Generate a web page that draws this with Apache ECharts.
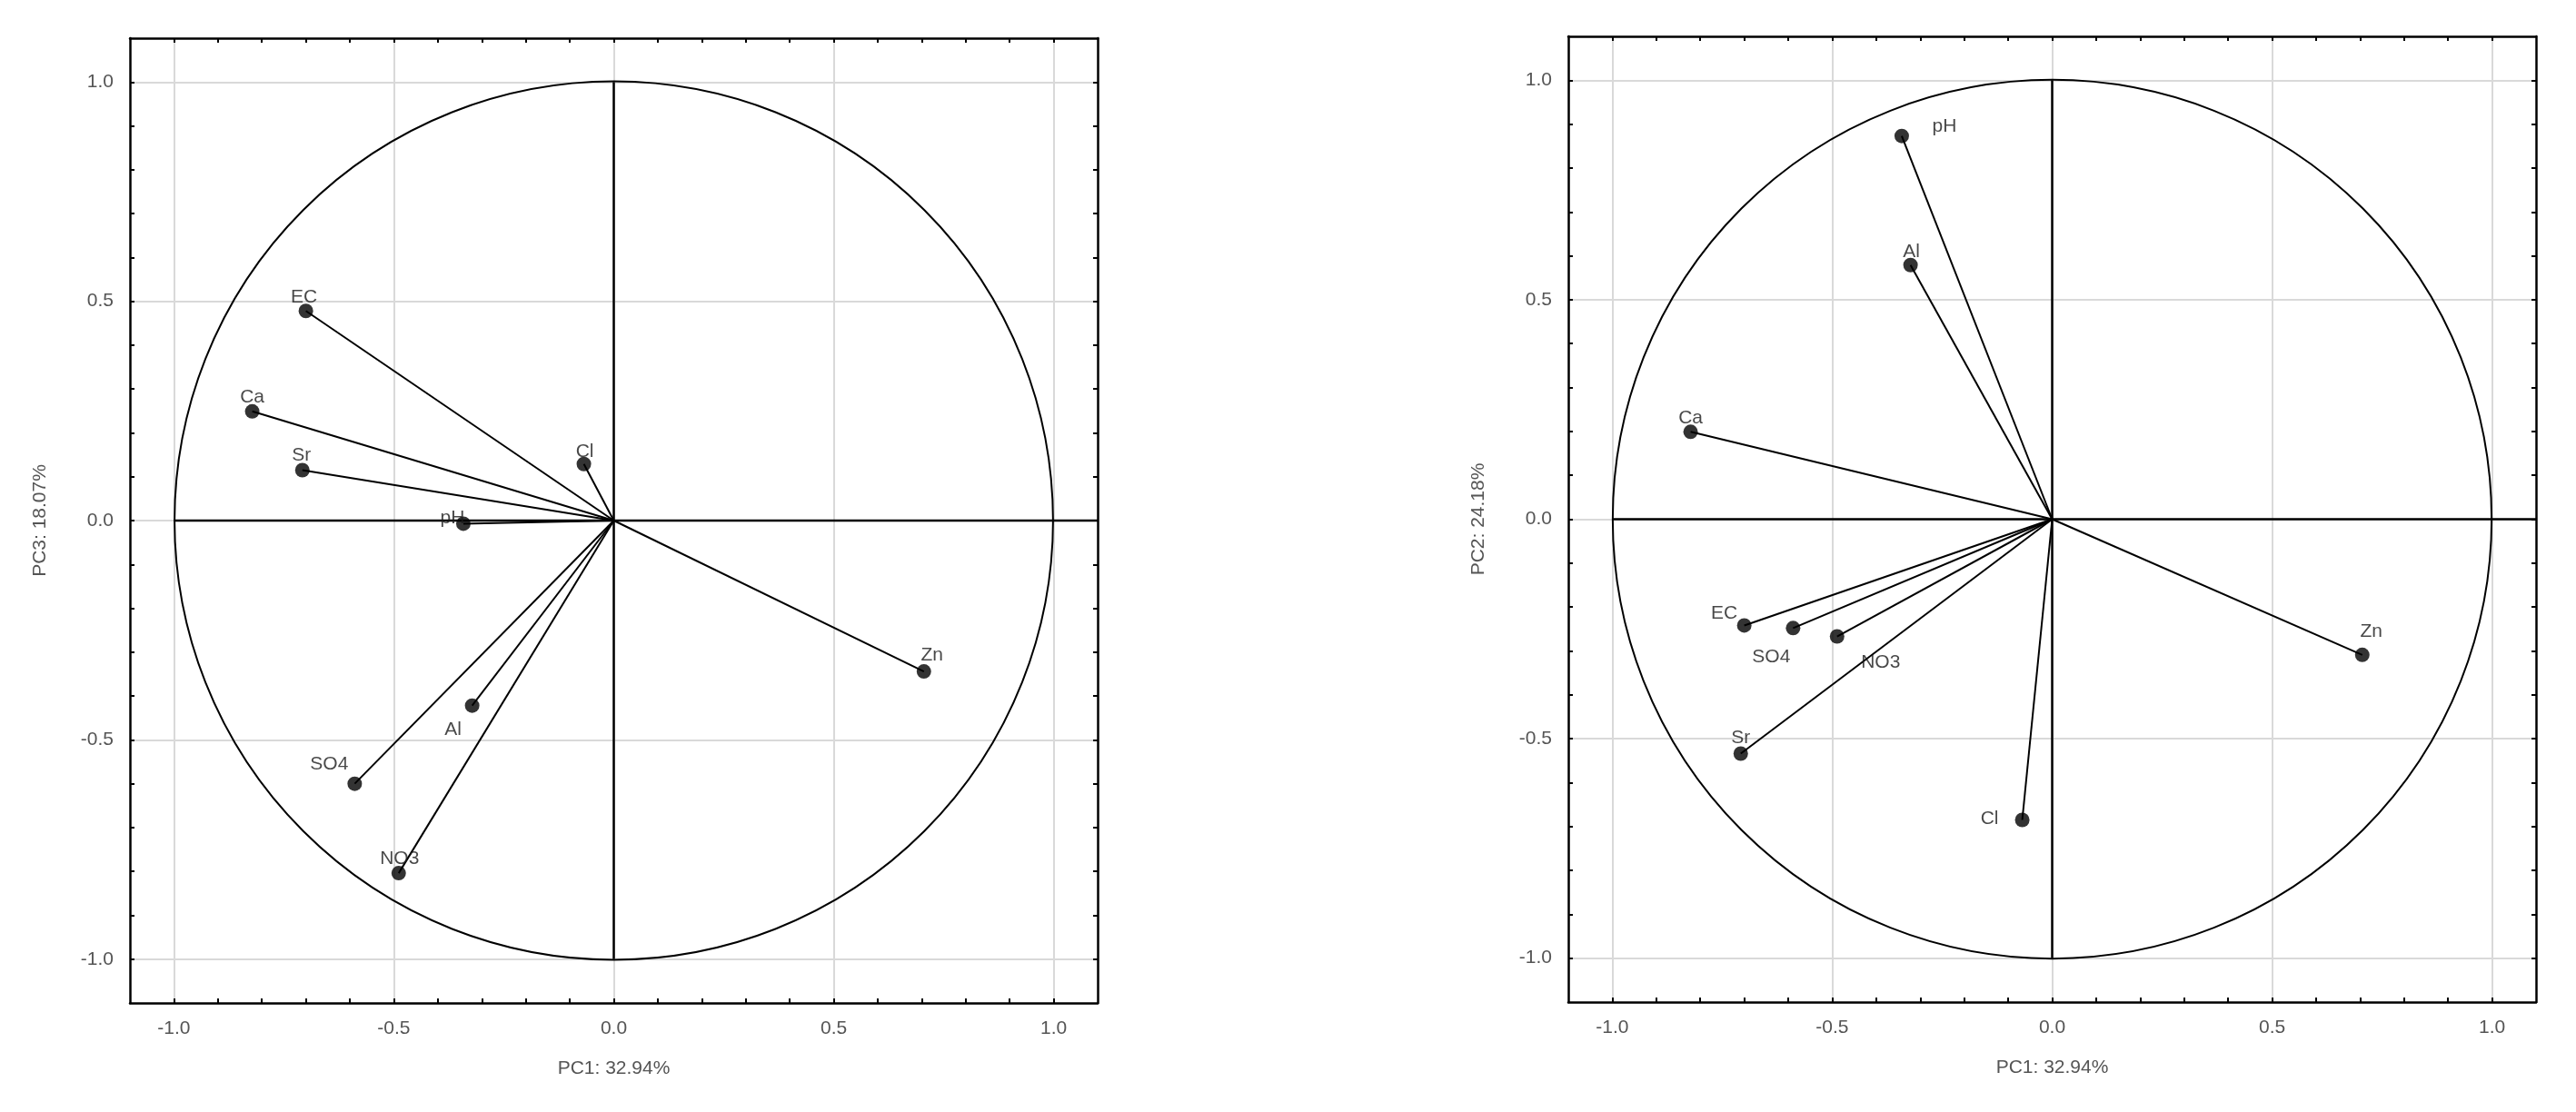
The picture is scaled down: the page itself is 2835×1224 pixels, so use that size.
<!DOCTYPE html>
<html>
<head>
<meta charset="utf-8">
<title>PCA loadings</title>
<script src="https://cdn.jsdelivr.net/npm/echarts@6/dist/echarts.min.js"></script>
<style>
  html, body { margin: 0; padding: 0; background: #fff; }
  #chart { width: 2835px; height: 1224px; }
</style>
</head>
<body>
<div id="chart"></div>
<script>
  // loadings, same variable order in both plots
  var variables = ['EC', 'Ca', 'Sr', 'Cl', 'pH', 'Zn', 'Al', 'SO4', 'NO3']
  var pc1 = [-0.70, -0.822, -0.708, -0.068, -0.342, 0.705, -0.322, -0.589, -0.489]
  var pc3 = [0.478, 0.249, 0.115, 0.129, -0.007, -0.344, -0.422, -0.600, -0.804]
  var pc2 = [-0.242, 0.199, -0.534, -0.685, 0.873, -0.309, 0.579, -0.248, -0.267]

  var xTitle = 'PC1: 32.94%'
  var leftYTitle = 'PC3: 18.07%'
  var rightYTitle = 'PC2: 24.18%'

  var majorTicks = [-1.0, -0.5, 0.0, 0.5, 1.0]
  var minorTicks = [-1.0, -0.9, -0.8, -0.7, -0.6, -0.5, -0.4, -0.3, -0.2, -0.1, 0.0,
    0.1, 0.2, 0.3, 0.4, 0.5, 0.6, 0.7, 0.8, 0.9, 1.0]

  // reference lines through the origin: [x1, y1, x2, y2]
  var crossLines = [[-1.0, 0, 1.1, 0], [0, -1.0, 0, 1.0]]
  var unitCircle = [[0, 0]]

  // label placement (px offsets from the point centre)
  var leftLabelOffset = {
    EC: [-2, -15], Ca: [0, -16], Sr: [-1, -16], Cl: [1, -14], pH: [-12, -6],
    Zn: [9, -18], Al: [-21, 26], SO4: [-28, -21], NO3: [1, -16]
  }
  var rightLabelOffset = {
    EC: [-22, -13], Ca: [0, -15], Sr: [0, -17], Cl: [-36, -1], pH: [47, -10],
    Zn: [10, -26], Al: [1, -15], SO4: [-24, 32], NO3: [48, 29]
  }

  var font = 'Liberation Sans, Arial, sans-serif'
  var frameLine = { show: true, onZero: false, lineStyle: { color: '#000', width: 2.5 } }
  var frameTicks = { show: true, inside: true, length: 5, customValues: minorTicks, lineStyle: { color: '#000', width: 2 } }
  var gridLines = { show: true, lineStyle: { color: '#d9d9d9', width: 2 } }
  var tickLabel = {
    show: true, customValues: majorTicks, color: '#555', fontSize: 21, fontFamily: font,
    formatter: function (v) { return v.toFixed(1) }
  }
  var titleStyle = { color: '#555', fontSize: 21, fontFamily: font }

  function xAxes(g) {
    return [
      {
        gridIndex: g, type: 'value', position: 'bottom', min: -1.1, max: 1.1,
        name: xTitle, nameLocation: 'middle', nameGap: 62, nameTextStyle: titleStyle,
        axisLine: frameLine, axisTick: frameTicks,
        axisLabel: Object.assign({ margin: 18 }, tickLabel), splitLine: { show: false }
      },
      {
        gridIndex: g, type: 'value', position: 'top', min: -1.1, max: 1.1,
        axisLine: frameLine, axisTick: frameTicks, axisLabel: { show: false }, splitLine: { show: false }
      },
      {
        gridIndex: g, type: 'value', position: 'bottom', min: -1.1, max: 1.1,
        axisLine: { show: false }, axisTick: { show: false, customValues: majorTicks },
        axisLabel: { show: false }, splitLine: gridLines
      }
    ]
  }

  function yAxes(g, title) {
    return [
      {
        gridIndex: g, type: 'value', position: 'left', min: -1.1, max: 1.1,
        name: title, nameLocation: 'middle', nameGap: 88, nameTextStyle: titleStyle,
        axisLine: frameLine, axisTick: frameTicks,
        axisLabel: Object.assign({ margin: 18 }, tickLabel), splitLine: { show: false }
      },
      {
        gridIndex: g, type: 'value', position: 'right', min: -1.1, max: 1.1,
        axisLine: frameLine, axisTick: frameTicks, axisLabel: { show: false }, splitLine: { show: false }
      },
      {
        gridIndex: g, type: 'value', position: 'left', min: -1.1, max: 1.1,
        axisLine: { show: false }, axisTick: { show: false, customValues: majorTicks },
        axisLabel: { show: false }, splitLine: gridLines
      }
    ]
  }

  function drawCircle(params, api) {
    var c = api.coord([api.value(0), api.value(1)])
    var s = api.size([1, 1])
    return {
      type: 'circle',
      shape: { cx: c[0], cy: c[1], r: (s[0] + s[1]) / 2 },
      style: { fill: 'none', stroke: '#000', lineWidth: 2 }
    }
  }

  function drawCross(params, api) {
    var a = api.coord([api.value(0), api.value(1)])
    var b = api.coord([api.value(2), api.value(3)])
    return {
      type: 'line',
      shape: { x1: a[0], y1: a[1], x2: b[0], y2: b[1] },
      style: { stroke: '#000', lineWidth: 2.5 }
    }
  }

  function drawVector(params, api) {
    var o = api.coord([0, 0])
    var p = api.coord([api.value(0), api.value(1)])
    return {
      type: 'line',
      shape: { x1: o[0], y1: o[1], x2: p[0], y2: p[1] },
      style: { stroke: '#000', lineWidth: 2 }
    }
  }

  function seriesFor(axisIndex, ys, offsets) {
    var pts = variables.map(function (name, i) { return [pc1[i], ys[i]] })
    var labelled = variables.map(function (name, i) {
      return { name: name, value: [pc1[i], ys[i]], label: { offset: offsets[name] } }
    })
    return [
      { type: 'custom', xAxisIndex: axisIndex, yAxisIndex: axisIndex, renderItem: drawCircle, data: unitCircle, z: 2, silent: true },
      { type: 'custom', xAxisIndex: axisIndex, yAxisIndex: axisIndex, renderItem: drawCross, data: crossLines, z: 2, silent: true },
      { type: 'custom', xAxisIndex: axisIndex, yAxisIndex: axisIndex, renderItem: drawVector, data: pts, z: 3, silent: true },
      {
        type: 'scatter', xAxisIndex: axisIndex, yAxisIndex: axisIndex, z: 4,
        symbol: 'circle', symbolSize: 16, itemStyle: { color: '#000' },
        label: {
          show: true, position: 'inside', formatter: '{b}',
          color: '#1a1a1a', fontSize: 21, fontFamily: font
        },
        data: labelled
      }
    ]
  }

  var chart = echarts.init(document.getElementById('chart'))
  chart.setOption({
    backgroundColor: '#fff',
    animation: false,
    grid: [
      { left: 143, top: 42, width: 1065, height: 1062 },
      { left: 1726, top: 40, width: 1065, height: 1063 }
    ],
    xAxis: xAxes(0).concat(xAxes(1)),
    yAxis: yAxes(0, leftYTitle).concat(yAxes(1, rightYTitle)),
    series: seriesFor(0, pc3, leftLabelOffset).concat(seriesFor(3, pc2, rightLabelOffset))
  })
</script>
</body>
</html>
